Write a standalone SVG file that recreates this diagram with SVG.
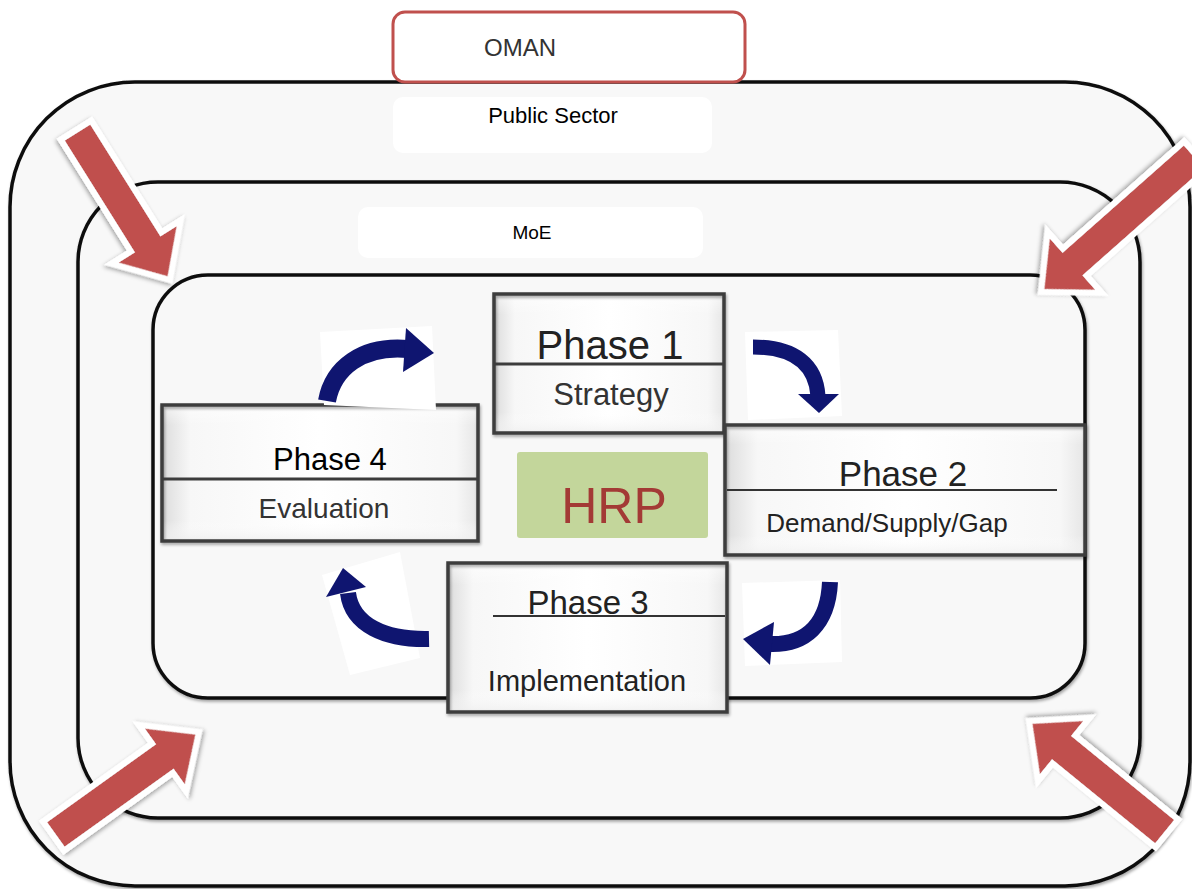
<svg xmlns="http://www.w3.org/2000/svg" width="1192" height="889" viewBox="0 0 1192 889">
<style>
  .cont { fill: #f8f8f8; stroke: #111; stroke-width: 3.5; filter: url(#sh); }
  .lbl { fill: #ffffff; stroke: none; }
  .box { stroke: #3c3c3c; stroke-width: 3.5; fill: none; }
  .bh { fill: url(#gh); }
  .bv { fill: url(#gv); }
  .div { stroke: #3c3c3c; stroke-width: 3; }
  .thin { stroke: #333; stroke-width: 1.8; }
  .t { font-family: "Liberation Sans", Arial, sans-serif; text-anchor: middle; }
  .red { fill: #C0504D; stroke: #ffffff; stroke-width: 6; stroke-linejoin: miter; filter: url(#sh2); }
  .bg { fill: #ffffff; }
  .shaft { fill: none; stroke: #0F1570; stroke-linecap: butt; }
  .head { fill: #0F1570; }
</style>
<defs>
  <filter id="sh" x="-5%" y="-5%" width="110%" height="110%">
    <feDropShadow dx="1" dy="2" stdDeviation="1.6" flood-color="#000" flood-opacity="0.35"/>
  </filter>
  <filter id="sh2" x="-20%" y="-20%" width="140%" height="140%">
    <feDropShadow dx="1" dy="2" stdDeviation="2" flood-color="#000" flood-opacity="0.35"/>
  </filter>
  <linearGradient id="gh" x1="0" y1="0" x2="1" y2="0">
    <stop offset="0" stop-color="#dcdcdc"/>
    <stop offset="0.09" stop-color="#f7f7f7"/>
    <stop offset="0.5" stop-color="#ffffff"/>
    <stop offset="0.93" stop-color="#f7f7f7"/>
    <stop offset="1" stop-color="#e6e6e6"/>
  </linearGradient>
  <linearGradient id="gv" x1="0" y1="0" x2="0" y2="1">
    <stop offset="0" stop-color="#ffffff" stop-opacity="0.6"/>
    <stop offset="0.15" stop-color="#ffffff" stop-opacity="0"/>
    <stop offset="0.85" stop-color="#ffffff" stop-opacity="0"/>
    <stop offset="1" stop-color="#eeeeee" stop-opacity="0.8"/>
  </linearGradient>
</defs>

<rect width="1192" height="889" fill="#ffffff"/>

<g id="public-sector">
  <rect class="cont" x="10" y="82" width="1180" height="804" rx="125"/>
  <rect class="lbl" x="393" y="97" width="319" height="56" rx="10"/>
  <text class="t" x="553" y="123" font-size="22" fill="#000">Public Sector</text>
</g>

<g id="oman">
  <rect x="393" y="12" width="352" height="70" rx="12" fill="#ffffff" stroke="#C0504D" stroke-width="3"/>
  <text class="t" x="520" y="56" font-size="24" fill="#333">OMAN</text>
</g>

<g id="moe">
  <rect class="cont" x="78" y="182" width="1062" height="636" rx="80"/>
  <rect class="lbl" x="358" y="207" width="345" height="51" rx="10"/>
  <text class="t" x="532" y="239" font-size="19" fill="#000">MoE</text>
</g>

<g id="inner">
  <rect class="cont" x="153" y="275" width="932" height="423" rx="55"/>
</g>

<g id="phase1">
  <rect class="bh" x="494" y="294" width="230" height="139"/>
  <rect class="bv" x="494" y="294" width="230" height="139"/>
  <rect class="box" x="494" y="294" width="230" height="139" filter="url(#sh)"/>
  <line class="div" x1="494" y1="364" x2="724" y2="364"/>
  <text class="t" x="610" y="359" font-size="40" fill="#222">Phase 1</text>
  <text class="t" x="611" y="405" font-size="31" fill="#333">Strategy</text>
</g>

<g id="phase2">
  <rect class="bh" x="725" y="425" width="360" height="130"/>
  <rect class="bv" x="725" y="425" width="360" height="130"/>
  <rect class="box" x="725" y="425" width="360" height="130" filter="url(#sh)"/>
  <line class="thin" x1="727" y1="490" x2="1057" y2="490"/>
  <text class="t" x="903" y="486" font-size="35" fill="#222">Phase 2</text>
  <text class="t" x="887" y="532" font-size="26" fill="#222">Demand/Supply/Gap</text>
</g>

<g id="phase3">
  <rect class="bh" x="448" y="563" width="279" height="149"/>
  <rect class="bv" x="448" y="563" width="279" height="149"/>
  <rect class="box" x="448" y="563" width="279" height="149" filter="url(#sh)"/>
  <line class="thin" x1="493" y1="616" x2="725" y2="616"/>
  <text class="t" x="588" y="614" font-size="33" fill="#222">Phase 3</text>
  <text class="t" x="587" y="691" font-size="29" fill="#222">Implementation</text>
</g>

<g id="phase4">
  <rect class="bh" x="162" y="405" width="316" height="136"/>
  <rect class="bv" x="162" y="405" width="316" height="136"/>
  <rect class="box" x="162" y="405" width="316" height="136" filter="url(#sh)"/>
  <line class="div" x1="162" y1="479" x2="478" y2="479"/>
  <text class="t" x="330" y="470" font-size="31" fill="#000">Phase 4</text>
  <text class="t" x="324" y="518" font-size="28" fill="#333">Evaluation</text>
</g>

<g id="hrp">
  <rect x="517" y="452" width="191" height="86" rx="3" fill="#C3D69B"/>
  <text class="t" x="614" y="523" font-size="50" fill="#A33A35">HRP</text>
</g>

<g id="connectors">
  <!-- cycle arrows -->
  <polygon class="bg" points="320,332 432,326 436,410 324,405"/>
  <path class="shaft" stroke-width="18" d="M327,401 C333,368 362,345 408,349"/>
  <polygon class="head" points="406,328 434,353 403,372"/>

  <polygon class="bg" points="745,332 838,330 842,416 748,420"/>
  <path class="shaft" stroke-width="15" d="M753,347 C795,347 816,365 818,396"/>
  <polygon class="head" points="798,394 839,394 819,413"/>

  <polygon class="bg" points="742,583 840,580 842,662 745,666"/>
  <path class="shaft" stroke-width="16" d="M830,582 C828,625 805,645 770,644"/>
  <polygon class="head" points="774,622 770,665 743,639"/>

  <polygon class="bg" points="322,575 400,552 420,658 350,675"/>
  <path class="shaft" stroke-width="16" d="M429,639 C385,640 352,625 348,593"/>
  <polygon class="head" points="326,597 366,587 343,568"/>

  <!-- red pressure arrows -->
  <polygon class="red" transform="translate(170,280) rotate(57.9)" points="-177,-18 -45,-18 -45,-41 0,0 -45,41 -45,18 -177,18"/>
  <polygon class="red" transform="translate(1041,292) rotate(138.5)" points="-207,-18 -45,-18 -45,-41 0,0 -45,41 -45,18 -207,18"/>
  <polygon class="red" transform="translate(199,732) rotate(-35.6)" points="-179,-18 -45,-18 -45,-41 0,0 -45,41 -45,18 -179,18"/>
  <polygon class="red" transform="translate(1029,721) rotate(-140.8)" points="-178,-18 -45,-18 -45,-41 0,0 -45,41 -45,18 -178,18"/>
</g>
</svg>
